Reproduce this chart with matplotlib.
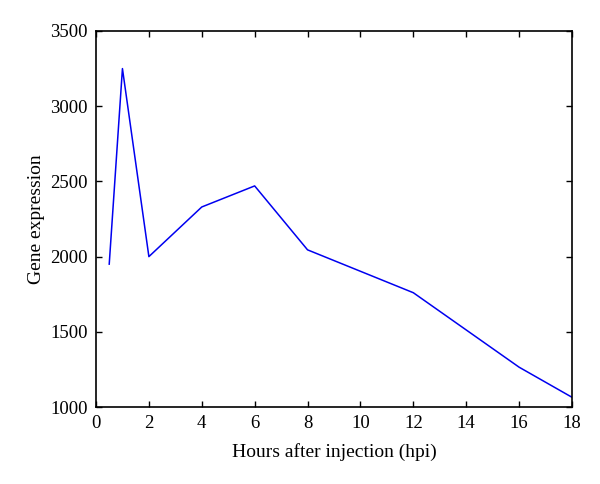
import matplotlib
matplotlib.use("Agg")
import matplotlib.pyplot as plt

hours = [0.5, 1, 2, 4, 6, 8, 12, 16, 18]
expression = [1950, 3250, 2000, 2330, 2470, 2045, 1760, 1265, 1065]
xticks = [0, 2, 4, 6, 8, 10, 12, 14, 16, 18]
yticks = [1000, 1500, 2000, 2500, 3000, 3500]

plt.rcParams['font.family'] = ['Liberation Serif', 'DejaVu Serif']

fig = plt.figure(figsize=(6, 4.84), dpi=100)
ax = fig.add_axes([0.16, 0.159, 0.7933, 0.777])
ax.plot(hours, expression, color='#0000f0', linewidth=1.1)
ax.set_xlim(0, 18)
ax.set_ylim(1000, 3500)
ax.set_xticks(xticks)
ax.set_yticks(yticks)
ax.tick_params(direction='in', top=True, right=True, labelsize=13.5, length=4, width=1, pad=6)
for s in ax.spines.values():
    s.set_linewidth(1.2)
ax.set_xlabel('Hours after injection (hpi)', fontsize=14, labelpad=8)
ax.set_ylabel('Gene expression', fontsize=14, labelpad=4)
fig.savefig('out.png', dpi=100)
